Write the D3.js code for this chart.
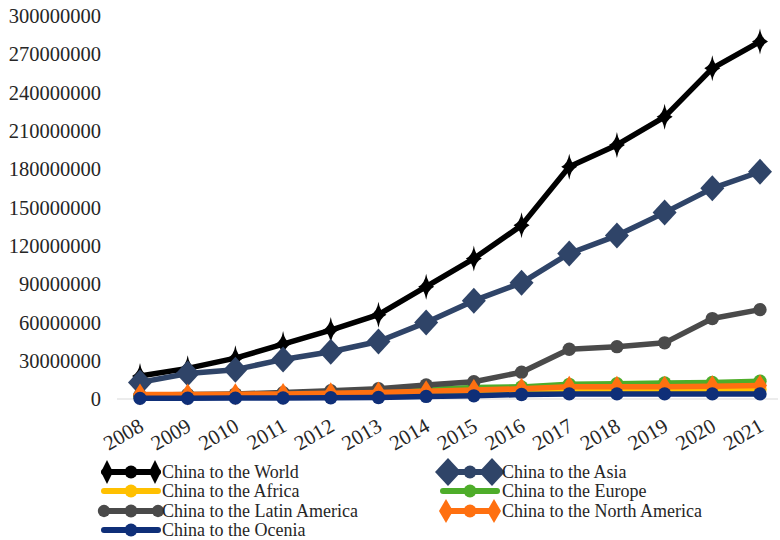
<!DOCTYPE html>
<meta charset="utf-8">
<head>
  <title>China to regions</title>
</head>

<style>
body {
  margin: 0;
  background: #fff;
}
</style>

<body>
  <div id="content">
    <svg width="780" height="540"></svg>
  </div>

  <script src="https://cdnjs.cloudflare.com/ajax/libs/d3/7.8.5/d3.min.js"></script>

  <script>
// Data
var years = [2008, 2009, 2010, 2011, 2012, 2013, 2014, 2015, 2016, 2017, 2018, 2019, 2020, 2021];
var yTicks = [0, 30000000, 60000000, 90000000, 120000000, 150000000, 180000000, 210000000, 240000000, 270000000, 300000000];

var world    = [18e6, 24e6, 32e6, 43e6, 54e6, 66e6, 88e6, 110e6, 136e6, 182e6, 199e6, 221e6, 259e6, 280e6];
var asia     = [13e6, 20e6, 23e6, 31e6, 37e6, 45e6, 60e6, 77e6, 91e6, 114e6, 128e6, 146e6, 165e6, 178e6];
var africa   = [2e6, 2.2e6, 2.5e6, 3e6, 3.5e6, 4e6, 4.5e6, 5e6, 5.5e6, 6e6, 6.5e6, 7e6, 7e6, 7.5e6];
var europe   = [2.5e6, 3e6, 3.5e6, 4e6, 5e6, 6e6, 7.5e6, 9e6, 9.5e6, 11.5e6, 12e6, 12.5e6, 13e6, 14e6];
var latin    = [3e6, 3.5e6, 4e6, 5e6, 6.5e6, 8e6, 11e6, 13.5e6, 21e6, 39e6, 41e6, 44e6, 63e6, 70e6];
var northAm  = [3.5e6, 3.5e6, 3.8e6, 4e6, 4.5e6, 5e6, 6e6, 7e6, 8e6, 9.5e6, 9.5e6, 9.5e6, 10e6, 10.5e6];
var oceania  = [0.5e6, 0.6e6, 0.7e6, 0.8e6, 1e6, 1.2e6, 2e6, 2.5e6, 3.5e6, 4e6, 4e6, 4e6, 4e6, 4e6];

var names = ['China to the World', 'China to the Asia', 'China to the Africa', 'China to the Europe',
  'China to the Latin America', 'China to the North America', 'China to the Ocenia'];

// series: values, colour, marker kind
var series = [
  {name: names[0], values: world,   color: '#000000', marker: 'star'},
  {name: names[1], values: asia,    color: '#2f4468', marker: 'bigdiamond'},
  {name: names[2], values: africa,  color: '#ffc000', marker: 'circle'},
  {name: names[3], values: europe,  color: '#4ead2a', marker: 'circle'},
  {name: names[4], values: latin,   color: '#4a4a4a', marker: 'circle'},
  {name: names[5], values: northAm, color: '#ff7010', marker: 'tall'},
  {name: names[6], values: oceania, color: '#0f2f78', marker: 'circle'}
];

var svg = d3.select('svg');

var x = d3.scalePoint()
  .domain(years)
  .range([140, 760]);

var y = d3.scaleLinear()
  .domain([0, 300000000])
  .range([399, 16]);

// baseline
svg.append('line')
  .attr('x1', 117).attr('x2', 778)
  .attr('y1', y(0)).attr('y2', y(0))
  .attr('stroke', '#d9d9d9')
  .attr('stroke-width', 1.2);

// y labels
svg.append('g')
  .selectAll('text')
  .data(yTicks)
  .enter().append('text')
  .attr('x', 101)
  .attr('y', function(d) { return y(d); })
  .attr('dy', '0.35em')
  .attr('text-anchor', 'end')
  .attr('font-family', 'Liberation Serif')
  .attr('font-size', 20.5)
  .attr('fill', '#262626')
  .text(function(d) { return d; });

// x labels, slanted
svg.append('g')
  .selectAll('text')
  .data(years)
  .enter().append('text')
  .attr('transform', function(d) { return 'translate(' + (x(d) + 5) + ',' + 430 + ') rotate(-30)'; })
  .attr('text-anchor', 'end')
  .attr('font-family', 'Liberation Serif')
  .attr('font-size', 21)
  .attr('fill', '#262626')
  .text(function(d) { return d; });

function markerPath(kind) {
  if (kind == 'star') return 'M0,-13 Q1.5,-3 8,0 Q1.5,3 0,13 Q-1.5,3 -8,0 Q-1.5,-3 0,-13Z';
  if (kind == 'bigdiamond') return 'M0,-13 L12,0 L0,13 L-12,0Z';
  if (kind == 'tall') return 'M0,-11 L7,0 L0,11 L-7,0Z';
  return d3.symbol().type(d3.symbolCircle).size(140)();
}

var line = d3.line()
  .x(function(d, i) { return x(years[i]); })
  .y(function(d) { return y(d); });

series.forEach(function(s) {
  var g = svg.append('g');
  g.append('path')
    .attr('d', line(s.values))
    .attr('fill', 'none')
    .attr('stroke', s.color)
    .attr('stroke-width', 5.5)
    .attr('stroke-linejoin', 'round');
  g.selectAll('path.m')
    .data(s.values)
    .enter().append('path')
    .attr('class', 'm')
    .attr('transform', function(d, i) { return 'translate(' + x(years[i]) + ',' + y(d) + ')'; })
    .attr('d', markerPath(s.marker))
    .attr('fill', s.color);
});

// Legend
var legendPos = [
  {cx: 131, cy: 472, col: 0}, {cx: 470, cy: 472, col: 1},
  {cx: 131, cy: 491, col: 0}, {cx: 470, cy: 491, col: 1},
  {cx: 131, cy: 511, col: 0}, {cx: 470, cy: 511, col: 1},
  {cx: 131, cy: 530, col: 0}
];

series.forEach(function(s, i) {
  var p = legendPos[i];
  var g = svg.append('g').attr('transform', 'translate(' + p.cx + ',' + p.cy + ')');
  var half = 27;
  g.append('line')
    .attr('x1', -half).attr('x2', half)
    .attr('stroke', s.color)
    .attr('stroke-width', 6)
    .attr('stroke-linecap', 'round');
  g.append('circle').attr('r', 6.5).attr('fill', s.color);
  var ends = [];
  if (s.marker == 'star') ends = [{x: -24, d: 'M0,-12 L6,0 L0,12 L-6,0Z'}, {x: 24, d: 'M0,-12 L6,0 L0,12 L-6,0Z'}];
  if (s.marker == 'bigdiamond') ends = [{x: -22, d: 'M0,-14 L13,0 L0,14 L-13,0Z'}, {x: 22, d: 'M0,-14 L13,0 L0,14 L-13,0Z'}];
  if (s.marker == 'tall') ends = [{x: -24, d: 'M0,-12 L7,0 L0,12 L-7,0Z'}, {x: 24, d: 'M0,-12 L7,0 L0,12 L-7,0Z'}];
  if (s.name == names[4]) ends = [{x: -27, d: d3.symbol().type(d3.symbolCircle).size(120)()}, {x: 27, d: d3.symbol().type(d3.symbolCircle).size(120)()}];
  ends.forEach(function(e) {
    g.append('path').attr('transform', 'translate(' + e.x + ',0)').attr('d', e.d).attr('fill', s.color);
  });
  g.append('text')
    .attr('x', p.col == 0 ? 31 : 32)
    .attr('dy', '0.35em')
    .attr('font-family', 'Liberation Serif')
    .attr('font-size', 18)
    .attr('fill', '#262626')
    .text(s.name);
});
  </script>
</body>
</html>
